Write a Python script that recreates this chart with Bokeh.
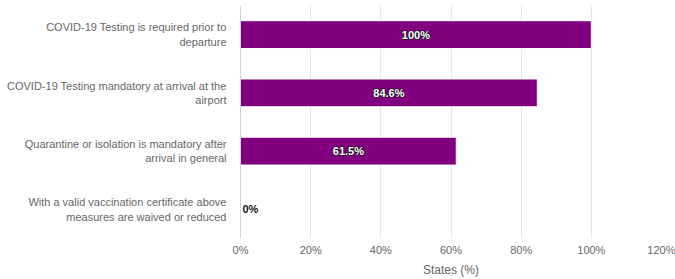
from bokeh.plotting import figure
from bokeh.models import Range1d, FixedTicker, PrintfTickFormatter, ColumnDataSource
from bokeh.core.properties import value
from bokeh.embed import file_html
from bokeh.resources import INLINE

categories = [
    "COVID-19 Testing is required prior to\ndeparture",
    "COVID-19 Testing mandatory at arrival at the\nairport",
    "Quarantine or isolation is mandatory after\narrival in general",
    "With a valid vaccination certificate above\nmeasures are waived or reduced",
]
values = [100, 84.6, 61.5, 0]
x_ticks = [0, 20, 40, 60, 80, 100, 120]
x_title = "States (%)"

FONT = "Liberation Sans"
idx = list(range(len(categories)))

p = figure(width=675, height=279, output_backend="svg", toolbar_location=None,
           x_range=Range1d(0, 120), y_range=Range1d(3.5, -0.5),
           min_border_left=240, min_border_right=14, min_border_top=5,
           min_border_bottom=39)
p.outline_line_color = None
p.background_fill_color = "white"
p.border_fill_color = "white"

p.hbar(y=idx, right=values, left=0, height=0.477,
       fill_color="#800080", line_color="white", line_width=1)

inside = [i for i in idx if values[i] > 0]
outside = [i for i in idx if values[i] <= 0]
src_in = ColumnDataSource(dict(y=[idx[i] for i in inside], x=[values[i] / 2 for i in inside],
                               t=[f"{values[i]:g}%" for i in inside]))
src_out = ColumnDataSource(dict(y=[idx[i] for i in outside], x=[values[i] for i in outside],
                                t=[f"{values[i]:g}%" for i in outside]))
common = dict(text_font=value(FONT), text_font_size="11px", text_font_style="bold",
              text_baseline="middle")
for dx, dy in [(-1, 0), (1, 0), (0, -1), (0, 1)]:
    p.text(x="x", y="y", text="t", source=src_in, text_color="#1a1a1a", text_alpha=0.8,
           text_align="center", x_offset=dx, y_offset=dy, **common)
p.text(x="x", y="y", text="t", source=src_in, text_color="white",
       text_align="center", **common)
p.text(x="x", y="y", text="t", source=src_out, text_color="#111111",
       text_align="left", x_offset=2, **common)

# x axis
xa = p.xaxis[0]
xa.ticker = FixedTicker(ticks=x_ticks)
xa.formatter = PrintfTickFormatter(format="%d%%")
xa.axis_line_color = None
xa.major_tick_line_color = None
xa.minor_tick_line_color = None
xa.major_tick_out = 0
xa.major_tick_in = 0
xa.major_label_standoff = 5
xa.major_label_text_font = FONT
xa.major_label_text_font_size = "11px"
xa.major_label_text_color = "#666666"
xa.axis_label = x_title
xa.axis_label_standoff = 4
xa.axis_label_text_font = FONT
xa.axis_label_text_font_size = "12px"
xa.axis_label_text_font_style = "normal"
xa.axis_label_text_color = "#666666"

# y axis
ya = p.yaxis[0]
ya.ticker = FixedTicker(ticks=idx)
ya.major_label_overrides = {i: c for i, c in zip(idx, categories)}
ya.axis_line_color = "#ccd6eb"
ya.major_tick_line_color = None
ya.minor_tick_line_color = None
ya.major_tick_out = 0
ya.major_tick_in = 0
ya.major_label_standoff = 14
ya.major_label_text_font = FONT
ya.major_label_text_font_size = "11px"
ya.major_label_text_color = "#666666"
ya.major_label_text_align = "right"

p.xgrid.ticker = FixedTicker(ticks=x_ticks)
p.xgrid.grid_line_color = "#e6e6e6"
p.ygrid.grid_line_color = None

open("out.html", "w").write(file_html(p, INLINE))
